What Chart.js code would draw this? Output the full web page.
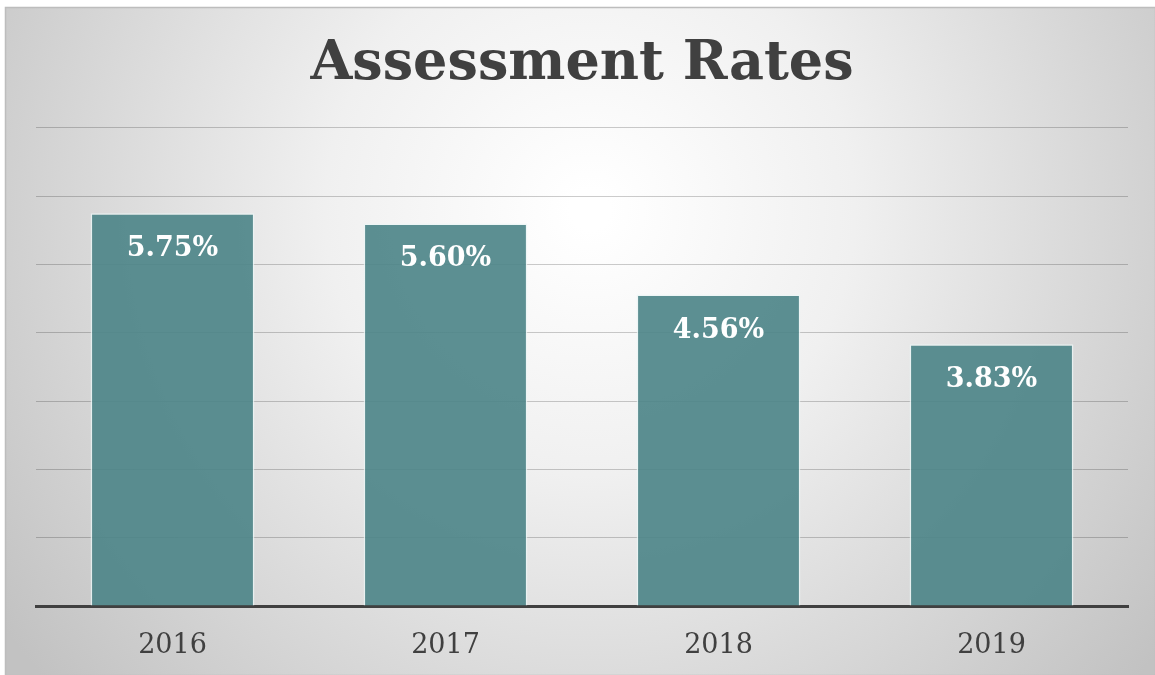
<!DOCTYPE html>
<html>
<head>
<meta charset="utf-8">
<script src="https://cdn.jsdelivr.net/npm/chart.js@4"></script>
<style>
  html, body { margin: 0; padding: 0; background: #fff; }
  #wrap { width: 1155px; height: 675px; position: relative; }
</style>
</head>
<body>
<div id="wrap"><canvas id="chart" width="1155" height="675"></canvas></div>
<script>
// Tasas de evaluación por año
const YEARS = ['2016', '2017', '2018', '2019'];
const RATES = [5.75, 5.60, 4.56, 3.83];
const Y_MAX = 7;

const SERIF = '"DejaVu Serif", "Liberation Serif", serif';

// fondo gris con degradado radial, como el marco original
const bgPlugin = {
  id: 'bgPanel',
  beforeDraw(chart) {
    const c = chart.ctx;
    const w = chart.width, h = chart.height;
    c.save();
    c.fillStyle = '#fff';
    c.fillRect(0, 0, w, h);
    const g = c.createRadialGradient(590, 210, 20, 590, 210, 720);
    g.addColorStop(0, '#ffffff');
    g.addColorStop(0.35, '#f0f0f0');
    g.addColorStop(1, '#c2c2c2');
    c.fillStyle = g;
    c.fillRect(5, 7, w - 5, h - 7);
    c.strokeStyle = '#bdbdbd';
    c.lineWidth = 1.5;
    c.strokeRect(5.5, 7.5, w - 5, h - 7);
    c.restore();
  },
};

// etiquetas de valor dentro de cada barra
const valueLabels = {
  id: 'valueLabels',
  afterDatasetsDraw(chart) {
    const c = chart.ctx;
    const meta = chart.getDatasetMeta(0);
    c.save();
    c.font = 'bold 27px ' + SERIF;
    c.fillStyle = '#ffffff';
    c.textAlign = 'center';
    c.textBaseline = 'middle';
    meta.data.forEach((bar, i) => {
      c.fillText(RATES[i].toFixed(2) + '%', bar.x, bar.y + 36);
    });
    c.restore();
  },
};

new Chart(document.getElementById('chart'), {
  type: 'bar',
  data: {
    labels: YEARS,
    datasets: [{
      data: RATES,
      backgroundColor: 'rgba(78,134,137,0.92)',
      borderColor: 'rgba(235,245,245,0.8)',
      borderWidth: 1.5,
      categoryPercentage: 0.6,
      barPercentage: 1,
    }],
  },
  options: {
    responsive: false,
    animation: false,
    devicePixelRatio: 1,
    layout: { padding: { left: 36, right: 27, top: 0, bottom: 0 } },
    plugins: {
      legend: { display: false },
      tooltip: { enabled: false },
      title: {
        display: true,
        text: 'Assessment Rates',
        color: '#404040',
        font: { family: SERIF, size: 54, weight: 'bold', lineHeight: 1.2 },
        padding: { top: 33, bottom: 30 },
      },
    },
    scales: {
      x: {
        grid: { display: false, drawTicks: false },
        border: { display: true, color: '#404040', width: 3 },
        ticks: {
          color: '#404040',
          padding: 24,
          font: { family: SERIF, size: 27 },
        },
        afterFit(scale) { scale.height = 69; },
      },
      y: {
        min: 0,
        max: Y_MAX,
        ticks: { display: false, stepSize: 1 },
        grid: { color: 'rgba(0,0,0,0.2)', lineWidth: 1, drawTicks: false },
        border: { display: false },
      },
    },
  },
  plugins: [bgPlugin, valueLabels],
});
</script>
</body>
</html>
